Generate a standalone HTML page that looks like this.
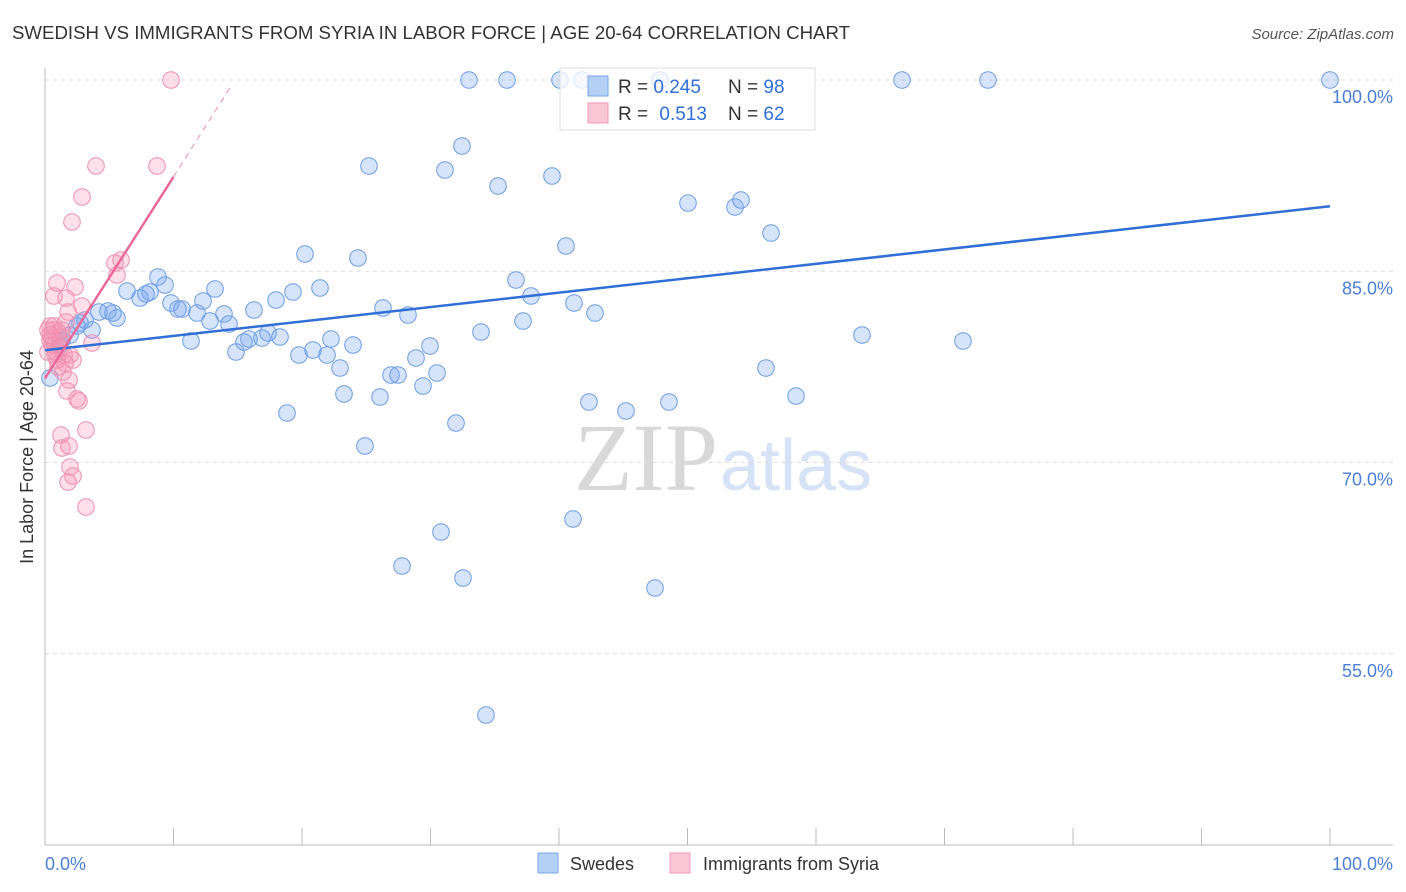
<!DOCTYPE html>
<html><head><meta charset="utf-8"><style>
body{margin:0;background:#fff;font-family:"Liberation Sans",sans-serif;}
svg{display:block}
</style></head><body>
<svg id="chart" width="1406" height="892">
<text x="12" y="39" font-size="18.5" fill="#333" textLength="838" lengthAdjust="spacingAndGlyphs">SWEDISH VS IMMIGRANTS FROM SYRIA IN LABOR FORCE | AGE 20-64 CORRELATION CHART</text>
<text x="1394" y="39" font-size="15" fill="#555" font-style="italic" text-anchor="end">Source: ZipAtlas.com</text>
<text x="718" y="490" font-size="96" fill="#d8d8d8" text-anchor="end" font-family="Liberation Serif">ZIP</text>
<text x="720" y="490" font-size="72" fill="#d6e2f5">atlas</text>
<g id="grid"></g><g id="axes"></g><g id="pts"></g><g id="trend"></g>
<text transform="translate(33,457) rotate(-90)" font-size="18" fill="#333" text-anchor="middle">In Labor Force | Age 20-64</text>
<text x="45" y="870" font-size="18" fill="#4a7fd4">0.0%</text>
<text x="1393" y="870" font-size="18" fill="#4a7fd4" text-anchor="end">100.0%</text>
<g>
<rect x="560" y="68" width="255" height="62" fill="#fff" fill-opacity="0.75" stroke="#ddd"/>
<rect x="588" y="76" width="20" height="20" fill="#b5d0f5" stroke="#7aa6e6"/>
<rect x="588" y="103" width="20" height="20" fill="#f9c6d6" stroke="#ef9ab6"/>
<text x="618" y="93" font-size="19" fill="#333">R = <tspan fill="#2f6fd6">0.245</tspan><tspan x="728">N = </tspan><tspan fill="#2f6fd6">98</tspan></text>
<text x="618" y="120" font-size="19" fill="#333">R = <tspan fill="#2f6fd6" dx="6">0.513</tspan><tspan x="728">N = </tspan><tspan fill="#2f6fd6">62</tspan></text>
</g>
<g>
<rect x="538" y="853" width="20" height="20" fill="#b5d0f5" stroke="#7aa6e6"/>
<text x="570" y="870" font-size="18" fill="#333">Swedes</text>
<rect x="670" y="853" width="20" height="20" fill="#f9c6d6" stroke="#ef9ab6"/>
<text x="703" y="870" font-size="18" fill="#333">Immigrants from Syria</text>
</g>
</svg>
<script>
const yTicks=[100,85,70,55];
const yTickLabels=["100.0%","85.0%","70.0%","55.0%"];
const xTicks=[0,10,20,30,40,50,60,70,80,90,100];
const bluePx=[[469,80],[507,80],[560,80],[582,80],[660,80],[902,80],[988,80],[1330,80],[462,146],[369,166],[445,170],[498,186],[552,176],[688,203],[735,207],[741,200],[771,233],[566,246],[305,254],[358,258],[516,280],[531,296],[574,303],[595,313],[523,321],[481,332],[383,308],[408,315],[862,335],[963,341],[158,277],[165,285],[127,291],[140,298],[150,292],[146,294],[215,289],[203,301],[171,303],[182,309],[178,309],[197,313],[224,314],[210,321],[229,324],[254,310],[276,300],[293,292],[320,288],[108,311],[117,318],[99,312],[113,313],[92,330],[80,323],[70,335],[62,340],[77,326],[191,341],[236,352],[244,342],[249,339],[262,338],[268,333],[280,337],[299,355],[313,350],[327,355],[331,339],[353,345],[340,368],[416,358],[430,346],[437,373],[391,375],[398,375],[423,386],[380,397],[344,394],[287,413],[456,423],[365,446],[589,402],[626,411],[669,402],[766,368],[796,396],[441,532],[573,519],[402,566],[463,578],[655,588],[486,715],[50,378],[60,345],[85,320]];
const pinkPx=[[171,80],[96,166],[157,166],[82,197],[72,222],[121,260],[115,263],[117,275],[57,283],[75,287],[54,296],[66,298],[82,306],[68,312],[66,322],[50,326],[53,330],[58,332],[62,337],[50,340],[55,345],[60,348],[48,352],[55,355],[70,355],[73,360],[65,363],[58,367],[63,372],[69,380],[92,343],[67,391],[77,399],[79,401],[61,435],[86,430],[62,448],[69,446],[70,467],[73,476],[68,482],[86,507],[52,345],[57,360],[48,330],[52,338],[60,341],[64,355],[56,352],[50,335],[54,326],[62,330]];
const toX=p=>(p-45)/12.85, toY=p=>100-(p-80)/12.75;
const blueX=bluePx.map(p=>toX(p[0])), blueY=bluePx.map(p=>toY(p[1]));
const pinkX=pinkPx.map(p=>toX(p[0])), pinkY=pinkPx.map(p=>toY(p[1]));
const blueTrend=[[0,78.8],[100,90.1]];
const pinkTrend=[[0,76.6],[10,92.4]];
const pinkTrendDash=[[10,92.4],[14.4,99.4]];
const X=v=>45+v*12.85, Y=v=>80+(100-v)*12.75;
const NS="http://www.w3.org/2000/svg";
function mk(t,a,parent){const e=document.createElementNS(NS,t);for(const k in a)e.setAttribute(k,a[k]);document.getElementById(parent).appendChild(e);return e;}
yTicks.forEach((v,i)=>{
 const l=mk('line',{x1:45,x2:1393,y1:Y(v),y2:Y(v),stroke:'#ddd','stroke-dasharray':'4,4'},'grid');
 
 
 const t=mk('text',{x:1393,y:Y(v)+23,'font-size':18,fill:'#4a7fd4','text-anchor':'end'},'grid');
 t.textContent=yTickLabels[i];
 
 
});
let a=mk('line',{x1:45,x2:45,y1:68,y2:845,stroke:'#bbb'},'axes');


a=mk('line',{x1:45,x2:1393,y1:845,y2:845,stroke:'#bbb'},'axes');


xTicks.forEach(v=>{const t=mk('line',{x1:X(v),x2:X(v),y1:828,y2:845,stroke:'#bbb'},'axes');
 
 });
blueX.forEach((x,i)=>{const c=mk('circle',{cx:X(x),cy:Y(blueY[i]),r:8.3,fill:'rgba(120,165,235,0.3)',stroke:'#6d9de4','stroke-width':1},'pts');
 
 });
pinkX.forEach((x,i)=>{const c=mk('circle',{cx:X(x),cy:Y(pinkY[i]),r:8.3,fill:'rgba(245,150,180,0.3)',stroke:'#ee8fb0','stroke-width':1},'pts');
 
 });
let l=mk('line',{x1:X(blueTrend[0][0]),y1:Y(blueTrend[0][1]),x2:X(blueTrend[1][0]),y2:Y(blueTrend[1][1]),stroke:'#2f6fd6','stroke-width':2.5},'trend');


l=mk('line',{x1:X(pinkTrend[0][0]),y1:Y(pinkTrend[0][1]),x2:X(pinkTrend[1][0]),y2:Y(pinkTrend[1][1]),stroke:'#e8689a','stroke-width':2.5},'trend');


l=mk('line',{x1:X(pinkTrendDash[0][0]),y1:Y(pinkTrendDash[0][1]),x2:X(pinkTrendDash[1][0]),y2:Y(pinkTrendDash[1][1]),stroke:'#f0a0bd','stroke-width':1.2,'stroke-dasharray':'6,5'},'trend');


</script>
</body></html>
